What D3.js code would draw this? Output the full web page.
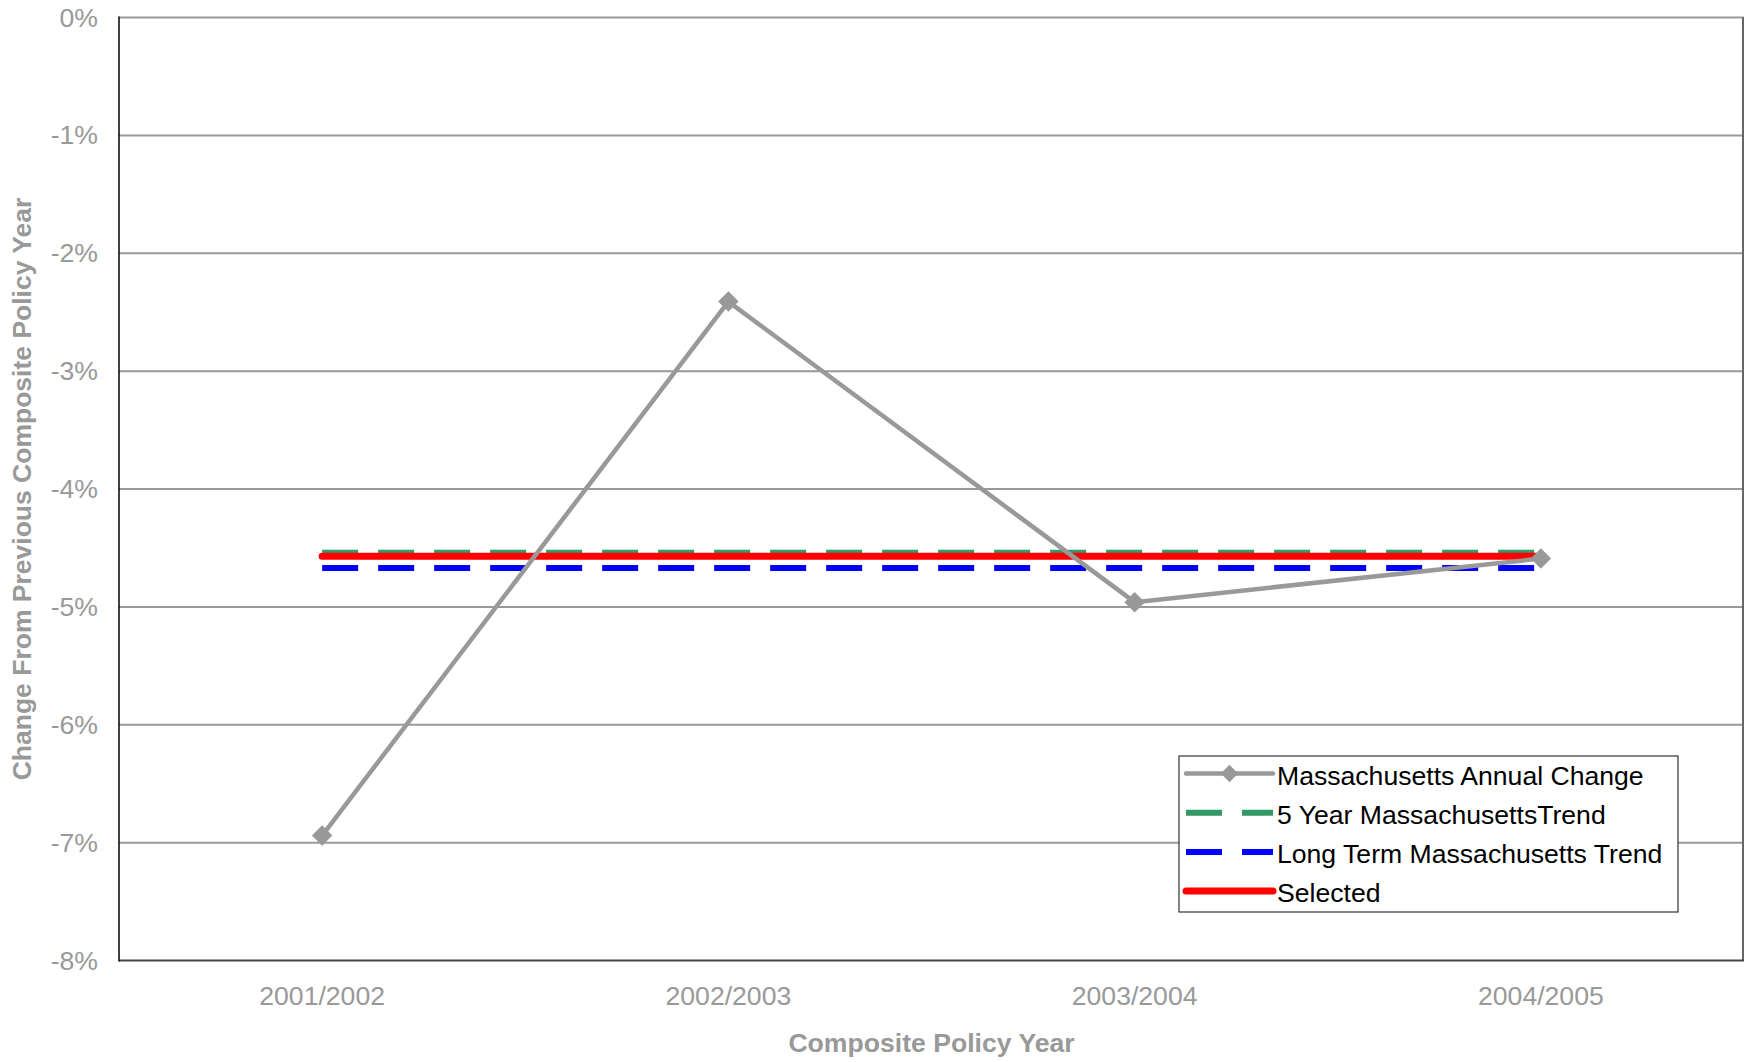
<!DOCTYPE html>
<html>
<head>
<meta charset="utf-8">
<script src="https://cdn.jsdelivr.net/npm/d3@7"></script>
<style>
  html, body { margin: 0; padding: 0; background: #fff; }
  svg { display: block; font-family: "Liberation Sans", Arial, sans-serif; }
</style>
</head>
<body>
<svg id="chart" width="1745" height="1062"></svg>
<script>
// Composite policy years on the x axis
const categories = ["2001/2002", "2002/2003", "2003/2004", "2004/2005"];
// Massachusetts annual change, in percent
const annualChange = [-6.94, -2.41, -4.96, -4.59];
// Flat trend levels, in percent
const fiveYearTrend = [-4.54, -4.54, -4.54, -4.54];
const longTermTrend = [-4.67, -4.67, -4.67, -4.67];
const selected = [-4.57, -4.57, -4.57, -4.57];
// Y tick values and labels
const yTicks = [0, -1, -2, -3, -4, -5, -6, -7, -8];
const yTickLabels = ["0%", "-1%", "-2%", "-3%", "-4%", "-5%", "-6%", "-7%", "-8%"];

const legendNames = [
  "Massachusetts Annual Change",
  "5 Year MassachusettsTrend",
  "Long Term Massachusetts Trend",
  "Selected"
];

const svg = d3.select("#chart");
const plot = { left: 119, right: 1744, top: 17.5, bottom: 960.5 };

const x = d3.scaleBand().domain(categories).range([plot.left, plot.right]);
const y = d3.scaleLinear().domain([-8, 0]).range([plot.bottom, plot.top]);
const cx = c => x(c) + x.bandwidth() / 2;

// Horizontal gridlines
svg.append("g")
  .selectAll("line")
  .data(yTicks.filter(t => t > -8))
  .join("line")
  .attr("x1", plot.left).attr("x2", plot.right)
  .attr("y1", d => y(d)).attr("y2", d => y(d))
  .attr("stroke", "#999").attr("stroke-width", 2);

// Right border of the plot area
svg.append("line")
  .attr("x1", plot.right - 1).attr("x2", plot.right - 1)
  .attr("y1", y(0)).attr("y2", y(-8))
  .attr("stroke", "#666").attr("stroke-width", 2);

// Bottom axis line
svg.append("line")
  .attr("x1", plot.left).attr("x2", plot.right)
  .attr("y1", y(-8)).attr("y2", y(-8))
  .attr("stroke", "#444").attr("stroke-width", 2);

// Left axis line
svg.append("line")
  .attr("x1", plot.left).attr("x2", plot.left)
  .attr("y1", y(0) - 1).attr("y2", y(-8) + 1)
  .attr("stroke", "#000").attr("stroke-width", 1.5);

// Y tick labels
const yAxis = d3.axisLeft(y).tickValues(yTicks)
  .tickFormat((d, i) => yTickLabels[i]).tickSize(0).tickPadding(21);
const gy = svg.append("g").attr("transform", `translate(${plot.left},0)`).call(yAxis);
gy.select(".domain").remove();
gy.selectAll("text")
  .attr("fill", "#999").style("font-size", "26.6px")
  .style("font-family", "'Liberation Sans', Arial, sans-serif");

// X tick labels
const xAxis = d3.axisBottom(x).tickSize(0).tickPadding(26);
const gx = svg.append("g").attr("transform", `translate(0,${plot.bottom})`).call(xAxis);
gx.select(".domain").remove();
gx.selectAll("text")
  .attr("fill", "#999").style("font-size", "26.6px")
  .style("font-family", "'Liberation Sans', Arial, sans-serif");

// Axis titles
svg.append("text")
  .attr("x", (plot.left + plot.right) / 2).attr("y", 1052)
  .attr("text-anchor", "middle")
  .attr("fill", "#999").style("font-size", "26.6px").style("font-weight", "bold")
  .text("Composite Policy Year");

svg.append("text")
  .attr("transform", `translate(31,${(plot.top + plot.bottom) / 2}) rotate(-90)`)
  .attr("text-anchor", "middle")
  .attr("fill", "#999").style("font-size", "26.5px").style("font-weight", "bold")
  .text("Change From Previous Composite Policy Year");

const line = d3.line().x((d, i) => cx(categories[i])).y(d => y(d));

// Trend lines
svg.append("path").datum(fiveYearTrend).attr("d", line)
  .attr("fill", "none").attr("stroke", "#339966").attr("stroke-width", 6)
  .attr("stroke-dasharray", "36,20");
svg.append("path").datum(longTermTrend).attr("d", line)
  .attr("fill", "none").attr("stroke", "#0000ff").attr("stroke-width", 6)
  .attr("stroke-dasharray", "36,20");
svg.append("path").datum(selected).attr("d", line)
  .attr("fill", "none").attr("stroke", "#ff0000").attr("stroke-width", 7)
  .attr("stroke-linecap", "round");

// Annual change line with diamond markers
svg.append("path").datum(annualChange).attr("d", line)
  .attr("fill", "none").attr("stroke", "#999").attr("stroke-width", 4.5)
  .attr("stroke-linejoin", "round");

const diamond = d3.symbol().type(d3.symbolSquare).size(210);
svg.append("g").selectAll("path")
  .data(annualChange)
  .join("path")
  .attr("d", diamond)
  .attr("transform", (d, i) => `translate(${cx(categories[i])},${y(d)}) rotate(45)`)
  .attr("fill", "#999");

// Legend
const legend = svg.append("g").attr("transform", "translate(1179,756)");
legend.append("rect")
  .attr("x", 0).attr("y", 0).attr("width", 499).attr("height", 156)
  .attr("fill", "#fff").attr("stroke", "#333").attr("stroke-width", 1.2);

const rowY = i => 17.5 + i * 39.2;
const symX1 = 7, symX2 = 94;
const styles = [
  { color: "#999", width: 4.5, dash: null, cap: "round" },
  { color: "#339966", width: 6, dash: "36,20", cap: "butt" },
  { color: "#0000ff", width: 6, dash: "36,20", cap: "butt" },
  { color: "#ff0000", width: 7, dash: null, cap: "round" }
];
const legendDiamond = d3.symbol().type(d3.symbolSquare).size(150);
legendNames.forEach((name, i) => {
  const s = styles[i];
  const ln = legend.append("line")
    .attr("x1", symX1).attr("x2", symX2)
    .attr("y1", rowY(i)).attr("y2", rowY(i))
    .attr("stroke", s.color).attr("stroke-width", s.width)
    .attr("stroke-linecap", s.cap);
  if (s.dash) ln.attr("stroke-dasharray", s.dash);
  if (i === 0) {
    legend.append("path").attr("d", legendDiamond)
      .attr("transform", `translate(${(symX1 + symX2) / 2},${rowY(i)}) rotate(45)`)
      .attr("fill", s.color);
  }
  legend.append("text")
    .attr("x", 98).attr("y", rowY(i) + 2).attr("dy", "0.35em")
    .attr("fill", "#000").style("font-size", "26.6px")
    .text(name);
});
</script>
</body>
</html>
